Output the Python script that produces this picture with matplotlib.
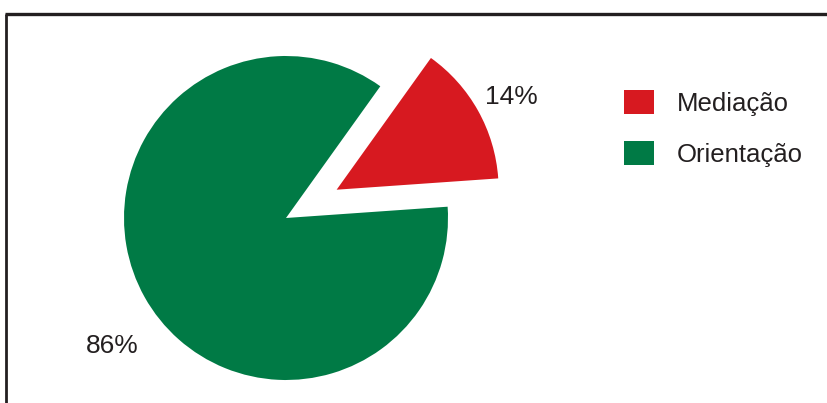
import matplotlib
matplotlib.use("Agg")
from matplotlib import pyplot as plt

# data
categories = ["Mediação", "Orientação"]
shares = [14, 86]
colours = ["#d71920", "#007a45"]

plt.rcParams['font.family'] = ['Liberation Sans', 'DejaVu Sans']
text_col = "#231f20"

W, H = 827, 403
fig = plt.figure(figsize=(W / 100, H / 100), dpi=100)
ax = fig.add_axes([0, 0, 1, 1])  # axes in pixel units, y up

cx, cy, r = 286, 185, 162
wedges, _ = ax.pie(shares, colors=colours, startangle=4, counterclock=True,
                   explode=[58, 0], center=(cx, cy), radius=r,
                   wedgeprops=dict(linewidth=0))

# percentage labels
ax.text(511, 306, f"{shares[0]}%", fontsize=19, color=text_col, ha="center", va="center")
ax.text(112, 57, f"{shares[1]}%", fontsize=19, color=text_col, ha="center", va="center")

ax.set_xlim(0, W)
ax.set_ylim(0, H)
ax.set_aspect("equal")
ax.axis("off")

# frame: top and left lines only
ax.plot([5, W], [H - 13.5, H - 13.5], color="#231f20", lw=2.4, solid_capstyle="butt")
ax.plot([6, 6], [0, H - 13.5], color="#231f20", lw=2.0, solid_capstyle="butt")

leg = fig.legend(wedges, categories, loc="upper left", bbox_to_anchor=(614 / W, 1 - 80 / H),
                 frameon=False, fontsize=18.5, handlelength=1.15, handleheight=1.05,
                 handletextpad=0.9, labelspacing=0.98, borderaxespad=0)
for t in leg.get_texts():
    t.set_color(text_col)

fig.savefig("out.png", dpi=100)
